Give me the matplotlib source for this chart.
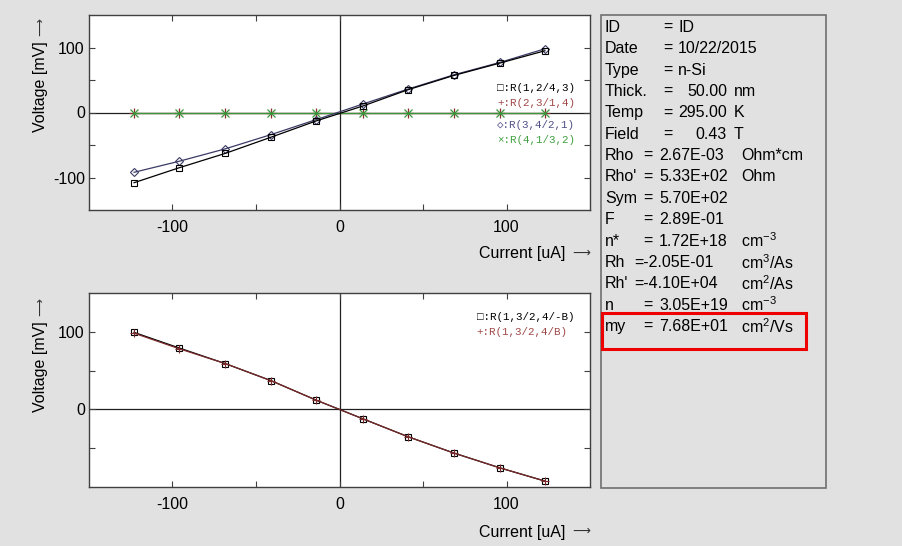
import matplotlib
matplotlib.use("Agg")
import matplotlib.pyplot as plt
from matplotlib.patches import Rectangle

plt.rcParams['font.family'] = ['Liberation Sans', 'DejaVu Sans']
plt.rcParams['axes.unicode_minus'] = False
plt.rcParams['mathtext.default'] = 'regular'

# ---------------- data ----------------
current = [-123, -96, -68.5, -41, -14, 14, 41, 68.5, 96, 123]

top_names = ['R(1,2/4,3)', 'R(2,3/1,4)', 'R(3,4/2,1)', 'R(4,1/3,2)']
top_r1 = [-108, -85, -63, -38, -13, 10, 35, 57, 76, 95]
top_r2 = [0, 0, 0, 0, 0, 0, 0, 0, 0, 0]
top_r3 = [-92, -75, -56, -34, -11, 13, 36, 58, 77, 98]
top_r4 = [0, 0, 0, 0, 0, 0, 0, 0, 0, 0]

bot_names = ['R(1,3/2,4/-B)', 'R(1,3/2,4/B)']
bot_mb = [99, 79, 59, 37, 12, -12, -35, -56, -75, -92]
bot_pb = [98, 78, 59, 37, 12, -12, -35, -56, -75, -92]

info_labels = ['ID', 'Date', 'Type', 'Thick.', 'Temp', 'Field', 'Rho', "Rho'",
               'Sym', 'F', 'n*', 'Rh', "Rh'", 'n', 'my']
info_values = ['ID', '10/22/2015', 'n-Si', '50.00', '295.00', '0.43', '2.67E-03',
               '5.33E+02', '5.70E+02', '2.89E-01', '1.72E+18', '-2.05E-01',
               '-4.10E+04', '3.05E+19', '7.68E+01']
info_units = ['', '', '', 'nm', 'K', 'T', 'Ohm*cm', 'Ohm', '', '', 'cm$^{-3}$',
              'cm$^{3}$/As', 'cm$^{2}$/As', 'cm$^{-3}$', 'cm$^{2}$/Vs']

xticks_major = [-100, 0, 100]
xticks_minor = [-50, 50]

# ---------------- figure ----------------
W, H = 902, 546
BG = '#e1e1e1'
fig = plt.figure(figsize=(W / 100, H / 100), dpi=100, facecolor=BG)


def fx(x):
    return x / W


def fy(y):
    return 1 - y / H


def make_axes(top, bottom):
    ax = fig.add_axes([fx(89), fy(bottom), fx(590) - fx(89), fy(top) - fy(bottom)])
    ax.set_facecolor('white')
    for s in ax.spines.values():
        s.set_color('#404040')
        s.set_linewidth(1.0)
    ax.set_xlim(-150, 150)
    ax.set_xticks(xticks_major)
    ax.set_xticks(xticks_minor, minor=True)
    ax.tick_params(which='both', direction='in', top=True, right=True,
                   length=4, width=0.8, color='#404040', labelsize=11.5)
    ax.tick_params(axis='x', pad=7)
    ax.tick_params(axis='y', pad=3)
    ax.axhline(0, color='#202020', lw=0.9, zorder=1)
    ax.axvline(0, color='#202020', lw=0.9, zorder=1)
    return ax


# top axes
ax1 = make_axes(15, 210)
ax1.set_ylim(-150, 150)
ax1.set_yticks([-100, 0, 100])
ax1.set_yticks([-50, 50], minor=True)

c_r1, c_r2, c_r3, c_r4 = '#000000', '#8b3030', '#3a3a66', '#3a963a'
ax1.plot(current, top_r2, color=c_r2, lw=0.9, marker='+', ms=7, mew=0.9, zorder=3)
ax1.plot(current, top_r4, color=c_r4, lw=0.9, marker='x', ms=5.5, mew=0.9, zorder=3)
ax1.plot(current, top_r3, color=c_r3, lw=0.9, marker='D', ms=4.2, mfc='none',
         mew=0.8, zorder=4)
ax1.plot(current, top_r1, color=c_r1, lw=0.9, marker='s', ms=5, mfc='none',
         mew=0.8, zorder=4)

mono = ['Liberation Mono', 'DejaVu Sans Mono']
leg_top = [('\u25a1:', c_r1), ('+:', '#a04848'), ('\u25c7:', '#505088'), ('\u00d7:', '#40a040')]
leg_top_y = [0.624, 0.550, 0.436, 0.359]
for (sym, col), name, yy in zip(leg_top, top_names, leg_top_y):
    ax1.text(0.815, yy, sym + name, transform=ax1.transAxes, family=mono,
             fontsize=7.8, color=col, va='center', ha='left', zorder=6)

# bottom axes
ax2 = make_axes(292.7, 487.3)
ax2.set_ylim(-100, 150)
ax2.set_yticks([0, 100])
ax2.set_yticks([-50, 50], minor=True)
ax2.plot(current, bot_mb, color='#000000', lw=0.9, marker='s', ms=5, mfc='none',
         mew=0.8, zorder=3)
ax2.plot(current, bot_pb, color='#7a2a2a', lw=0.9, marker='+', ms=6, mew=0.8, zorder=4)

leg_bot = [('\u25a1:', '#000000'), ('+:', '#a04848')]
leg_bot_y = [0.877, 0.800]
for (sym, col), name, yy in zip(leg_bot, bot_names, leg_bot_y):
    ax2.text(0.774, yy, sym + name, transform=ax2.transAxes, family=mono,
             fontsize=7.8, color=col, va='center', ha='left', zorder=6)

# axis labels (text + long thin arrow)
ARROW = '\u27f6'
for ytop, xlab_y in [(18, 253.5), (298, 532)]:
    fig.text(fx(40), fy(ytop + 23), 'Voltage [mV]', rotation=90,
             ha='center', va='top', fontsize=11.5)
    fig.text(fx(40), fy(ytop), ARROW, rotation=90, family=['DejaVu Sans'],
             ha='center', va='top', fontsize=9, color='#333333')
    fig.text(fx(565), fy(xlab_y), 'Current [uA]', ha='right',
             va='center', fontsize=11.5)
    fig.text(fx(590), fy(xlab_y - 0.5), ARROW, ha='right', family=['DejaVu Sans'],
             va='center', fontsize=9, color='#333333')

# info panel
fig.patches.append(Rectangle((fx(600.7), fy(488)), fx(826) - fx(600.7),
                             fy(15) - fy(488), transform=fig.transFigure,
                             facecolor='none', edgecolor='#707070', lw=1.2))
row_h = 21.35
for i, (lab, val, unit) in enumerate(zip(info_labels, info_values, info_units)):
    y = fy(27.5 + i * row_h)
    fig.text(fx(605), y, lab, ha='left', va='center', fontsize=11.5)
    if i < 6:
        fig.text(fx(663), y, '=', ha='left', va='center', fontsize=11.5)
        if i < 3:
            fig.text(fx(678), y, val, ha='left', va='center', fontsize=11.5)
        else:
            fig.text(fx(727), y, val, ha='right', va='center', fontsize=11.5)
        if unit:
            fig.text(fx(734), y, unit, ha='left', va='center', fontsize=11.5)
    else:
        if val.startswith('-'):
            fig.text(fx(634), y, '=' + val, ha='left', va='center', fontsize=11.5)
        else:
            fig.text(fx(643), y, '=', ha='left', va='center', fontsize=11.5)
            fig.text(fx(659), y, val, ha='left', va='center', fontsize=11.5)
        if unit:
            fig.text(fx(741), y, unit, ha='left', va='center', fontsize=11.5)

# red highlight box
fig.patches.append(Rectangle((fx(601.7), fy(349.3)), fx(806) - fx(601.7),
                             fy(312.7) - fy(349.3), transform=fig.transFigure,
                             facecolor='none', edgecolor='#ee0000', lw=2.2))

fig.savefig('out.png', dpi=100, facecolor=BG)
